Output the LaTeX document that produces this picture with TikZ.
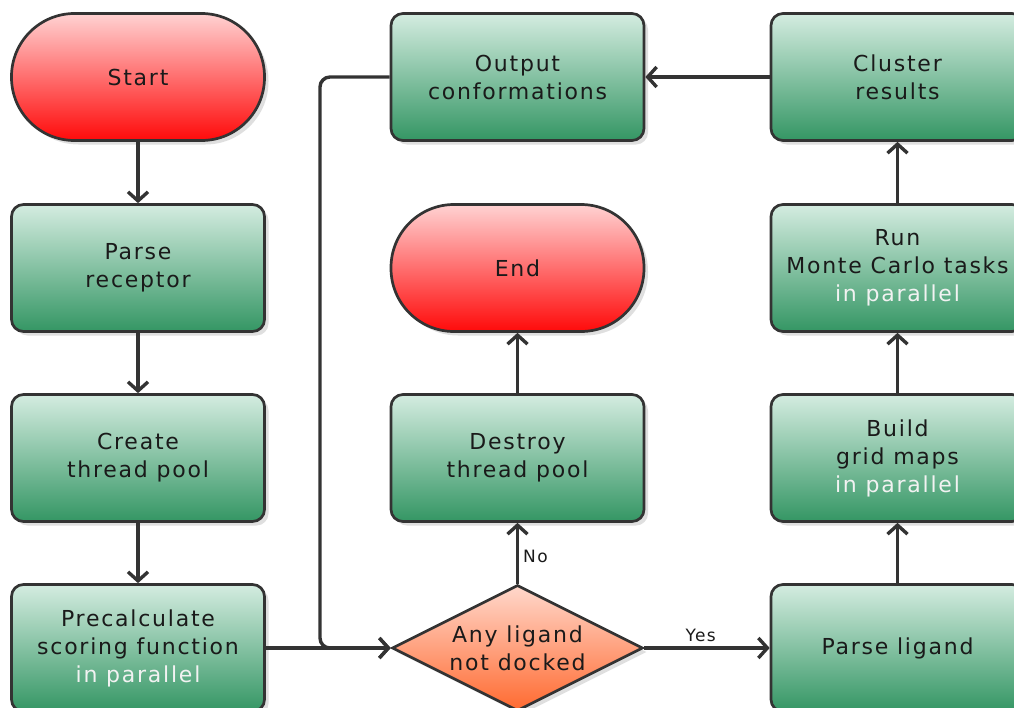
\documentclass[tikz,border=0pt]{standalone}
\usepackage{fontspec}
\setmainfont[LetterSpace=8]{DejaVu Sans}
\usetikzlibrary{shapes.geometric,shadows,arrows.meta}
\definecolor{lineg}{HTML}{333333}
\definecolor{gtop}{HTML}{D4ECE0}
\definecolor{gbot}{HTML}{349664}
\definecolor{rtop}{HTML}{FFD2D2}
\definecolor{rbot}{HTML}{FF0A0A}
\definecolor{dtop}{HTML}{FFD8CC}
\definecolor{dbot}{HTML}{FF6A30}
\definecolor{txt}{HTML}{1A1A1A}
\definecolor{wtxt}{HTML}{F2F2F2}
\tikzset{
  shadowed/.style={drop shadow={shadow xshift=4pt,shadow yshift=-4pt,fill=black!25}},
  procbox/.style={rectangle,rounded corners=12pt,draw=lineg,line width=2.7pt,
    top color=gtop,bottom color=gbot,minimum width=253pt,minimum height=127pt,
    inner sep=0pt,align=center,font=\fontsize{22}{28}\selectfont,text=txt,shadowed},
  termbox/.style={procbox,rounded corners=63pt,top color=rtop,bottom color=rbot},
  decbox/.style={diamond,draw=lineg,line width=2.7pt,top color=dtop,bottom color=dbot,
    minimum width=251pt,minimum height=126pt,inner sep=0pt,shape aspect=2,
    align=center,font=\fontsize{22}{28}\selectfont,text=txt,shadowed},
  conn/.style={draw=lineg,line width=3.4pt,-{Straight Barb[length=9pt,width=20pt,line width=3.4pt]}},
  elabel/.style={font=\fontsize{17}{20}\selectfont,text=txt,inner sep=4pt},
  par/.style={text=wtxt}
}
\begin{document}
\begin{tikzpicture}[x=1pt,y=-1pt]
\useasboundingbox (0,0) rectangle (1014,707);
\clip (0,0) rectangle (1014,707);
\node[termbox] (start) at (138,77) {Start};
\node[procbox] (parse) at (138,268) {Parse\\receptor};
\node[procbox] (create) at (138,458) {Create\\thread pool};
\node[procbox] (pre) at (138,648) {Precalculate\\scoring function\\\textcolor{wtxt}{in parallel}};
\node[decbox] (dec) at (517.5,648) {Any ligand\\not docked};
\node[procbox] (destroy) at (517.5,458) {Destroy\\thread pool};
\node[termbox] (end) at (517.5,268) {End};
\node[procbox] (out) at (517.5,77) {Output\\conformations};
\node[procbox] (lig) at (897.5,648) {Parse ligand};
\node[procbox] (build) at (897.5,458) {Build\\grid maps\\\textcolor{wtxt}{in parallel}};
\node[procbox] (run) at (897.5,268) {Run\\Monte Carlo tasks\\\textcolor{wtxt}{in parallel}};
\node[procbox] (clus) at (897.5,77) {Cluster\\results};
\coordinate (jn) at (320,648);
\draw[conn] (start) -- (parse);
\draw[conn] (parse) -- (create);
\draw[conn] (create) -- (pre);
\draw[conn] (pre.east) -- (dec.west);
\draw[conn,rounded corners=10pt] (out.west) -| (jn) -- (dec.west);
\draw[conn] (dec.north) -- node[elabel,right,pos=0.45] {No} (destroy.south);
\draw[conn] (destroy) -- (end);
\draw[conn] (dec.east) -- node[elabel,above,pos=0.45,yshift=1pt] {Yes} (lig.west);
\draw[conn] (lig) -- (build);
\draw[conn] (build) -- (run);
\draw[conn] (run) -- (clus);
\draw[conn] (clus) -- (out);
\end{tikzpicture}
\end{document}
